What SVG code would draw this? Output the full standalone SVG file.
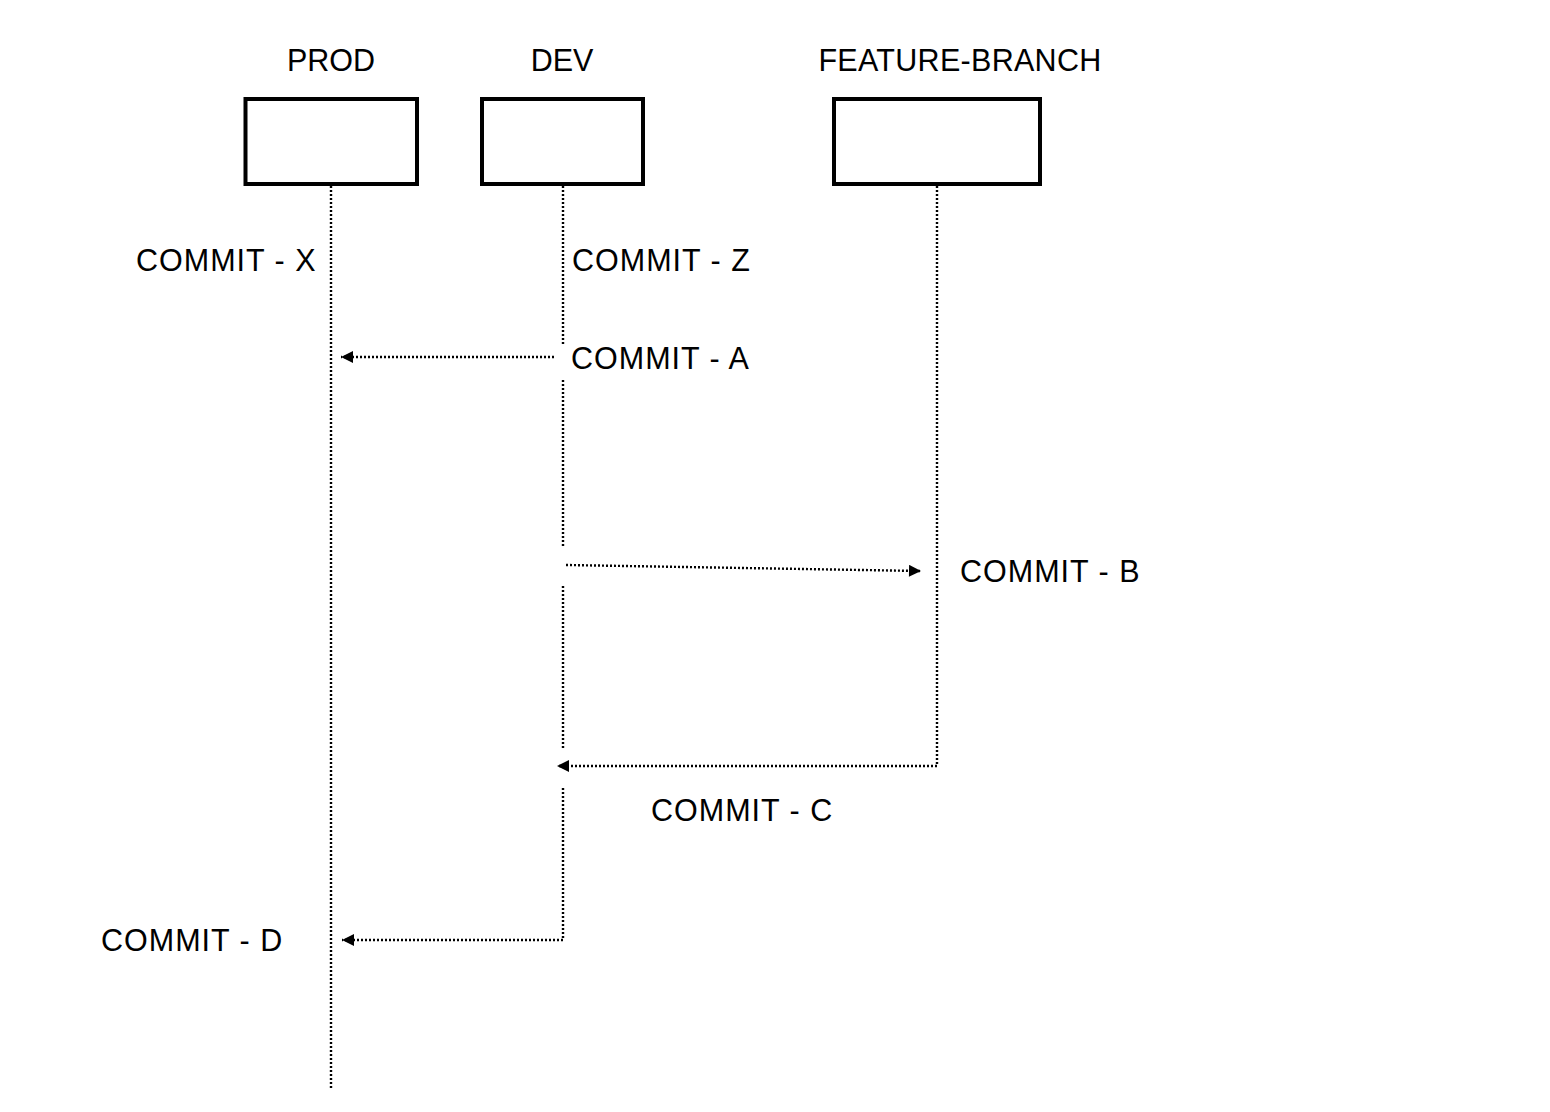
<svg xmlns="http://www.w3.org/2000/svg" width="1550" height="1112" viewBox="0 0 1550 1112">
<style>
.box{fill:#fff;stroke:#000;stroke-width:4}
.t{font-family:"Liberation Sans",Arial,Helvetica,sans-serif;font-size:30.5px;fill:#000}
.c{letter-spacing:1px}
.dot{fill:none;stroke:#000;stroke-width:2.4;stroke-dasharray:2 2}
</style>
<defs>
<marker id="ah" viewBox="0 0 10 10" refX="10" refY="5" markerWidth="5.5" markerHeight="5" orient="auto" markerUnits="strokeWidth">
<path d="M0,0 L10,5 L0,10 z" fill="#000"/>
</marker>
</defs>
<rect width="1550" height="1112" fill="#fff"/>
<g id="prod">
<rect class="box" x="245.5" y="99" width="171.5" height="85"/>
<text class="t" x="331" y="71" text-anchor="middle">PROD</text>
</g>
<g id="dev">
<rect class="box" x="482" y="99" width="161" height="85"/>
<text class="t" x="562" y="71" text-anchor="middle">DEV</text>
</g>
<g id="feature-branch">
<rect class="box" x="834" y="99" width="206" height="85"/>
<text class="t" x="960" y="71" text-anchor="middle" style="letter-spacing:0.3px">FEATURE-BRANCH</text>
</g>
<g id="labels">
<text class="t c" x="136" y="271">COMMIT - X</text>
<text class="t c" x="572" y="271">COMMIT - Z</text>
<text class="t c" x="571" y="369">COMMIT - A</text>
<text class="t c" x="960" y="582">COMMIT - B</text>
<text class="t c" x="651" y="821">COMMIT - C</text>
<text class="t c" x="101" y="951">COMMIT - D</text>
</g>
<g id="connectors">
<path class="dot" d="M331,186 V1088"/>
<path class="dot" d="M563,186 V346"/>
<path class="dot" d="M563,380 V546"/>
<path class="dot" d="M563,586 V750"/>
<path class="dot" d="M563,788 V940 H342" marker-end="url(#ah)"/>
<path class="dot" d="M937,186 V766 H557" marker-end="url(#ah)"/>
<path class="dot" d="M554,357 H341" marker-end="url(#ah)"/>
<path class="dot" d="M566,565 L921,571" marker-end="url(#ah)"/>
</g>
</svg>
